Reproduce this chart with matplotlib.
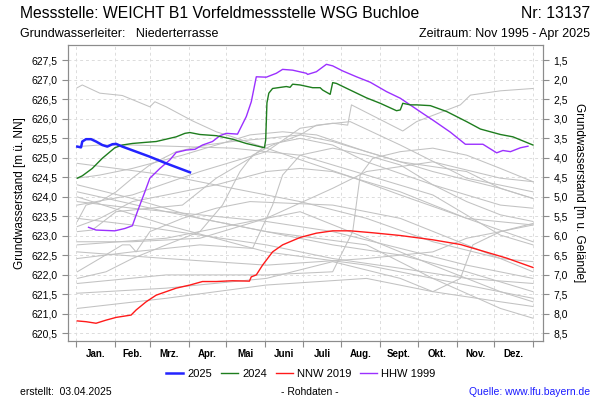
import matplotlib.pyplot as plt
from matplotlib.ticker import FuncFormatter, FixedLocator
from matplotlib.lines import Line2D

plt.rcParams['font.family'] = ['Liberation Sans', 'DejaVu Sans']

# Geländehöhe (m ü. NN), für die rechte Achse
gelaende = 629.0

# Monate (Tag im Jahr)
monat_grenzen = [0, 31, 59, 90, 120, 151, 181, 212, 243, 273, 304, 334, 365]
monate = ["Jan.", "Feb.", "Mrz.", "Apr.", "Mai", "Juni", "Juli", "Aug.",
          "Sept.", "Okt.", "Nov.", "Dez."]

# 2025
tag_2025 = [1, 4, 5, 8, 12, 16, 21, 25, 29, 32, 37, 59, 72, 91]
gw_2025 = [625.28, 625.26, 625.41, 625.47, 625.47, 625.41, 625.32, 625.28,
           625.34, 625.35, 625.28, 625.02, 624.85, 624.62]

# 2024
tag_2024 = [1, 5, 13, 21, 31, 37, 45, 56, 64, 72, 80, 87, 91, 99, 112, 125,
            136, 144, 150.5, 151.5, 152.5, 154, 157, 168, 171, 173, 179, 189,
            195, 197, 203, 205, 208, 219, 232, 243, 256, 259, 261, 267, 272,
            283, 296, 312, 323, 339, 349, 365]
gw_2024 = [624.47, 624.53, 624.72, 624.98, 625.25, 625.32, 625.36, 625.39,
           625.41, 625.47, 625.53, 625.62, 625.64, 625.59, 625.56, 625.47,
           625.36, 625.30, 625.25, 625.45, 626.40, 626.65, 626.77, 626.82,
           626.80, 626.88, 626.86, 626.79, 626.79, 626.73, 626.62, 626.92,
           626.90, 626.73, 626.53, 626.39, 626.20, 626.22, 626.39, 626.35,
           626.35, 626.33, 626.18, 625.92, 625.73, 625.59, 625.53, 625.32]

# NNW 2019
tag_nnw = [1, 8, 16, 24, 32, 44, 48, 56, 64, 80, 91, 101, 112, 125, 138.5,
           140, 144, 149, 157, 165, 179, 192, 205, 219, 237, 259, 285, 307,
           325, 344, 365]
gw_nnw = [620.81, 620.79, 620.75, 620.83, 620.90, 620.96, 621.09, 621.30,
          621.47, 621.65, 621.73, 621.82, 621.82, 621.84, 621.83, 621.94,
          621.99, 622.24, 622.58, 622.76, 622.95, 623.06, 623.12, 623.12,
          623.07, 623.00, 622.89, 622.77, 622.60, 622.42, 622.18]

# HHW 1999
tag_hhw = [10, 16, 31, 39, 45, 49, 55, 59, 67, 75, 80, 88, 95, 101, 109,
           115, 120, 129, 136, 140, 144, 152, 160, 165, 173, 184, 185, 192,
           200, 205, 213, 224, 235, 248, 259, 277, 285, 299, 311, 325, 336,
           341, 347, 355, 361]
gw_hhw = [623.21, 623.14, 623.12, 623.18, 623.25, 623.61, 624.12, 624.47,
          624.72, 624.94, 625.13, 625.19, 625.21, 625.32, 625.41, 625.56,
          625.62, 625.60, 626.05, 626.43, 627.07, 627.06, 627.16, 627.26,
          627.24, 627.16, 627.13, 627.20, 627.39, 627.35, 627.22, 627.07,
          626.93, 626.69, 626.52, 626.13, 625.96, 625.65, 625.34, 625.34,
          625.12, 625.18, 625.15, 625.25, 625.29]

# übrige Jahre (grau)
grau = [
    ([1, 5, 19, 37, 59, 63, 72, 93, 112, 125, 152, 219, 259, 312, 365],
     [626.79, 626.86, 626.65, 626.59, 626.30, 626.43, 626.30, 625.94, 625.66,
      625.53, 625.24, 624.51, 624.04, 623.44, 623.27]),
    ([1, 19, 45, 85, 125, 179, 232, 285, 339, 365],
     [625.28, 625.32, 625.32, 625.28, 625.24, 625.06, 624.55, 624.04, 623.01, 622.76]),
    ([1, 32, 72, 125, 179, 232, 285, 339, 365],
     [624.85, 624.72, 624.55, 624.21, 623.87, 623.44, 622.84, 622.41, 622.33]),
    ([1, 45, 99, 152, 205, 259, 312, 365],
     [624.30, 623.95, 623.44, 623.10, 622.76, 622.50, 622.07, 621.56]),
    ([1, 72, 152, 232, 285, 365],
     [623.99, 623.27, 622.58, 622.24, 621.90, 621.39]),
    ([1, 8, 19, 32, 45, 59, 80, 104, 125, 152, 179, 205, 259, 312, 339, 365],
     [623.36, 623.78, 623.87, 624.12, 624.47, 624.81, 625.15, 625.32, 625.41,
      625.49, 625.58, 625.41, 624.89, 624.64, 624.21, 623.95]),
    ([1, 13, 32, 59, 85, 112, 139, 152, 179, 205, 232, 285, 339, 365],
     [623.10, 623.14, 623.61, 623.70, 623.78, 624.47, 624.98, 625.32, 625.49,
      625.32, 624.89, 624.30, 623.78, 623.70]),
    ([1, 24, 45, 72, 99, 117, 131, 141, 157, 179, 192, 219, 259, 312, 365],
     [621.90, 622.07, 622.41, 622.76, 623.10, 623.78, 624.64, 625.06, 625.32,
      625.58, 625.83, 625.92, 625.32, 624.47, 624.12]),
    ([1, 45, 99, 141, 157, 165, 179, 205, 232, 259, 285, 312, 339, 365],
     [622.41, 622.58, 622.76, 622.67, 623.78, 624.55, 625.06, 625.24, 625.06,
      624.81, 624.30, 623.87, 623.53, 623.36]),
    ([1, 72, 152, 205, 221, 227, 237, 259, 285, 312, 339, 365],
     [621.77, 621.99, 621.99, 622.07, 623.10, 624.55, 624.98, 625.15, 625.24,
      625.06, 624.72, 624.38]),
    ([1, 72, 152, 205, 259, 285, 307, 317, 339, 365],
     [621.52, 621.65, 621.90, 622.33, 621.90, 621.56, 621.90, 622.76, 623.10, 623.31]),
    ([1, 72, 152, 232, 285, 339, 365],
     [621.13, 621.39, 621.73, 621.90, 621.56, 621.30, 621.18]),
    ([1, 72, 152, 232, 285, 339, 365],
     [624.12, 623.61, 623.10, 622.76, 621.90, 621.13, 620.88]),
    ([1, 19, 37, 43, 48, 59, 85, 112, 139, 205, 259, 312, 365],
     [622.07, 622.41, 622.76, 622.76, 622.58, 623.10, 623.44, 623.70, 623.87,
      623.78, 623.44, 622.76, 622.07]),
    ([1, 45, 99, 152, 205, 232, 285, 339, 365],
     [622.84, 622.84, 622.93, 623.44, 624.21, 624.64, 624.89, 624.47, 624.38]),
    ([1, 45, 99, 152, 205, 259, 312, 365],
     [623.44, 623.27, 623.01, 622.76, 622.41, 622.16, 621.90, 621.77]),
    ([1, 45, 99, 152, 179, 205, 217, 220, 261, 272, 307, 315, 339, 365],
     [623.78, 624.04, 624.64, 625.15, 625.75, 625.88, 625.83, 626.35, 625.68,
      625.92, 626.35, 626.60, 626.71, 626.77]),
    ([1, 19, 45, 85, 112, 139, 165, 192, 232, 285, 339, 365],
     [624.47, 624.55, 624.72, 625.06, 625.32, 625.58, 625.66, 625.58, 625.15,
      624.64, 624.21, 623.95]),
    ([1, 45, 99, 152, 205, 259, 312, 365],
     [623.87, 623.70, 623.53, 623.36, 623.10, 622.67, 622.24, 621.90]),
    ([1, 19, 45, 72, 112, 152, 179, 205, 259, 312, 365],
     [623.23, 623.44, 623.87, 624.04, 624.30, 624.64, 624.72, 624.64, 624.12,
      623.44, 622.84]),
    ([1, 72, 125, 179, 232, 285, 339, 365],
     [622.76, 622.93, 623.27, 623.61, 622.93, 622.24, 621.56, 621.30]),
    ([1, 72, 152, 232, 285, 312, 339, 365],
     [622.58, 622.41, 622.24, 622.41, 622.58, 622.93, 623.10, 623.27]),
]

ylo, yhi = 620.295, 627.885
rahmen = '#8c8c8c'

fig = plt.figure(figsize=(6, 4), dpi=100)
ax = fig.add_axes([68/600, 1 - 341/400, 475/600, 296/400])

for t, w in grau:
    ax.plot(t, w, color='#c2c2c2', lw=0.75, zorder=2)

ax.plot(tag_nnw, gw_nnw, color='#ff1a1a', lw=1.0, zorder=4)
ax.plot(tag_hhw, gw_hhw, color='#9b30ff', lw=1.0, zorder=4)
ax.plot(tag_2024, gw_2024, color='#1e7d1e', lw=1.0, zorder=5)
ax.plot(tag_2025, gw_2025, color='#2323ff', lw=1.8, zorder=6)

ax.set_xlim(-6.4, 373)
ax.set_ylim(ylo, yhi)

komma = FuncFormatter(lambda v, _: f"{v:.1f}".replace('.', ','))
yt = [620.5 + 0.5 * i for i in range(15)]
ax.yaxis.set_major_locator(FixedLocator(yt))
ax.yaxis.set_major_formatter(komma)
ax.xaxis.set_major_locator(FixedLocator(monat_grenzen))
ax.xaxis.set_major_formatter(FuncFormatter(lambda v, _: ""))
mitten = [(a + b) / 2 for a, b in zip(monat_grenzen[:-1], monat_grenzen[1:])]
ax.xaxis.set_minor_locator(FixedLocator(mitten))
ax.set_xticklabels(monate, minor=True)
ax.tick_params(axis='x', which='minor', length=0, pad=6, labelsize=7)
for lbl in ax.get_xticklabels(minor=True):
    lbl.set_fontweight('bold')
ax.tick_params(axis='both', which='major', length=4, color=rahmen, labelsize=7.5)
ax.grid(True, which='major', color='#dcdcdc', lw=0.7, ls=(0, (3, 3)))
for s in ax.spines.values():
    s.set_color(rahmen)
ax.set_ylabel("Grundwasserstand [m ü. NN]", fontsize=8.5, labelpad=4)

ax2 = ax.twinx()
ax2.set_ylim(gelaende - ylo, gelaende - yhi)
ax2.yaxis.set_major_locator(FixedLocator([1.5 + 0.5 * i for i in range(15)]))
ax2.yaxis.set_major_formatter(komma)
ax2.tick_params(axis='y', length=4, color=rahmen, labelsize=7.5)
for s in ax2.spines.values():
    s.set_color(rahmen)
ax2.set_ylabel("Grundwasserstand [m u. Gelände]", fontsize=8.5, rotation=270,
               labelpad=12)

fig.text(20/600, 1 - 14/400, "Messstelle: WEICHT B1 Vorfeldmessstelle WSG Buchloe",
         fontsize=11.3, va='center', ha='left')
fig.text(590/600, 1 - 14/400, "Nr: 13137", fontsize=11.3, va='center', ha='right')
fig.text(20/600, 1 - 34/400, "Grundwasserleiter:   Niederterrasse",
         fontsize=9, va='center', ha='left')
fig.text(590/600, 1 - 34/400, "Zeitraum: Nov 1995 - Apr 2025",
         fontsize=9, va='center', ha='right')

handles = [Line2D([], [], color='#2323ff', lw=1.8),
           Line2D([], [], color='#1e7d1e', lw=1.0),
           Line2D([], [], color='#ff1a1a', lw=1.0),
           Line2D([], [], color='#9b30ff', lw=1.0)]
fig.legend(handles, ["2025", "2024", "NNW 2019", "HHW 1999"], ncol=4,
           loc='center', bbox_to_anchor=(301/600, 1 - 374/400), frameon=False,
           fontsize=8, handlelength=1.5, handletextpad=0.4, columnspacing=0.8)

fig.text(20/600, 1 - 392/400, "erstellt:  03.04.2025", fontsize=7.5,
         va='center', ha='left')
fig.text(310/600, 1 - 392/400, "- Rohdaten -", fontsize=7.5, va='center', ha='center')
fig.text(590/600, 1 - 392/400, "Quelle: www.lfu.bayern.de", fontsize=7.5,
         va='center', ha='right', color='#1a1aff')

fig.savefig("out.png", dpi=100)
